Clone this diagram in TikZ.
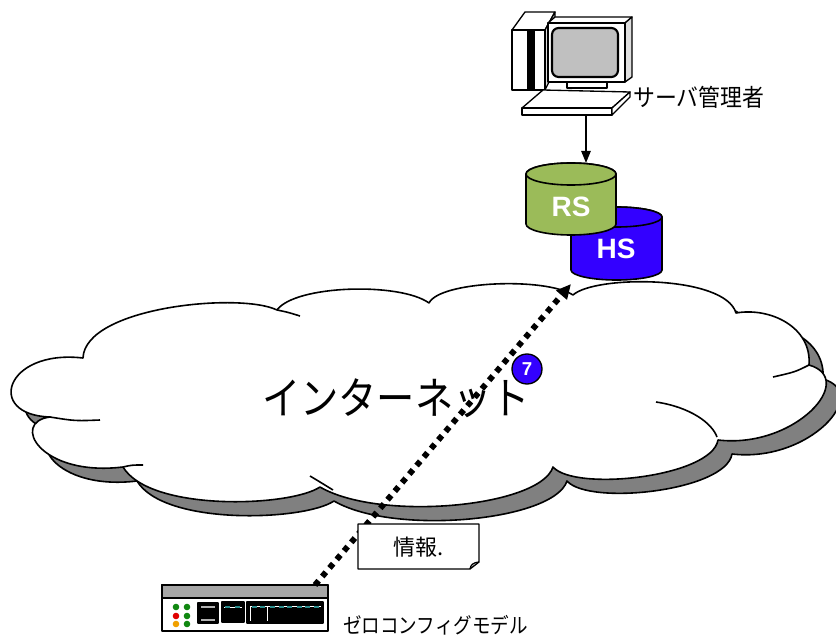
\documentclass[tikz,border=0pt]{standalone}
\usepackage{fontspec}
\setmainfont{Liberation Sans}
\newfontfamily\jpfont{Noto Sans CJK JP}
\usetikzlibrary{arrows.meta,positioning}
\definecolor{rsgreen}{HTML}{9BBB59}
\definecolor{hsblue}{HTML}{3300FF}
\definecolor{shadowgray}{HTML}{808080}
\definecolor{bandgray}{HTML}{A6A6A6}
\definecolor{screengray}{HTML}{C0C0C0}
\definecolor{portteal}{HTML}{2A8C8C}
\definecolor{ledgreen}{HTML}{118811}
\definecolor{ledred}{HTML}{E00000}
\definecolor{ledorange}{HTML}{F0A000}

\begin{document}
\begin{tikzpicture}[x=0.75pt,y=0.75pt,line join=round,
    outline/.style={draw=black,line width=1.2pt},
    pcline/.style={draw=black,line width=1pt},
    dbtext/.style={text=white,inner sep=0pt,font=\fontsize{21}{21}\selectfont\bfseries},
    jplabel/.style={inner sep=0pt,font=\jpfont\fontsize{#1}{#1}\selectfont},
    badge/.style={circle,draw=black,line width=1pt,fill=hsblue,text=white,inner sep=0pt,
        minimum size=22.5pt,font=\fontsize{14}{14}\selectfont\bfseries},
    link/.style={line width=4.4pt,dash pattern=on 4.2pt off 4.2pt,-{Triangle[length=11pt,width=10pt]}}]
    \useasboundingbox (0,0) rectangle (836,637);

    % cloud and its shadow
    \foreach \dx/\dy/\col in {14/-14/shadowgray,0/0/white}
        \draw[outline,fill=\col,shift={(\dx,\dy)}] (83,279)
            .. controls (85,330) and (240,345) .. (277,327)
            .. controls (295,352) and (400,355) .. (429,334)
            .. controls (440,356) and (545,360) .. (573,342)
            .. controls (595,362) and (725,362) .. (736,324)
            .. controls (770,330) and (812,310) .. (809,272)
            .. controls (858,258) and (795,188) .. (718,197)
            .. controls (712,160) and (575,145) .. (553,170)
            .. controls (540,130) and (380,115) .. (320,150)
            .. controls (290,130) and (150,125) .. (123,170)
            .. controls (40,160) and (10,215) .. (50,220)
            .. controls (-15,222) and (5,288) .. (83,279) -- cycle;
    \draw[outline] (277,327) .. controls (287,325) .. (300,321);
    \draw[outline] (50,220) .. controls (75,216) .. (100,217);
    \draw[outline] (123,170) .. controls (132,172) .. (143,172);
    \draw[outline] (310,161) .. controls (320,155) .. (333,147);
    \draw[outline] (809,272) .. controls (795,265) .. (773,260);
    \draw[outline] (656,235) .. controls (690,230) and (712,214) .. (717,200);
    \node[jplabel=33] (net) at (396,239) {\scalebox{0.87}[1]{インターネット}};

    % servers
    \draw[outline,fill=hsblue] (571,420) -- (571,367)
        arc[start angle=180,end angle=360,x radius=45.5,y radius=10] -- (662,420)
        arc[start angle=0,end angle=180,x radius=45.5,y radius=10] -- cycle;
    \draw[outline,fill=hsblue] (616.5,420) ellipse[x radius=45.5,y radius=10];
    \node[dbtext] (hs) at (616,388) {HS};
    \draw[outline,fill=rsgreen] (526,463) -- (526,413)
        arc[start angle=180,end angle=360,x radius=45,y radius=11] -- (616,463)
        arc[start angle=0,end angle=180,x radius=45,y radius=11] -- cycle;
    \draw[outline,fill=rsgreen] (571,463) ellipse[x radius=45,y radius=11];
    \node[dbtext] (rs) at (571,430) {RS};
    \coordinate (rstop) at (586,474);
    \coordinate (hsfoot) at (571,353);

    % device
    \draw[pcline,fill=white] (162,6) rectangle (328,52);
    \draw[pcline,fill=bandgray] (162,39) rectangle (328,52);
    \foreach \y/\c in {30/ledgreen,21/ledred,13/ledorange}
        \fill[\c] (176,\y) circle (3.3);
    \foreach \y in {30,21,13}
        \fill[ledgreen] (187,\y) circle (3.3);
    \draw[pcline,fill=black] (198,14) rectangle (218,34);
    \draw[gray!60,line width=0.8pt] (201,30) -- (215,30) (201,17) -- (215,17);
    \draw[pcline,fill=black] (222,15) rectangle (244,35);
    \draw[pcline,fill=black] (247,14) rectangle (323,35);
    \draw[white,line width=0.6pt] (224,30) -- (242,30) (250,31) -- (321,31)
        (250,31) -- (250,16) (267,31) -- (267,16);
    \foreach \x in {225,235,252,260,270,279,287,297,305,314}
        \fill[portteal] (\x,29) rectangle ++(5,2.5);
    \coordinate (cfgout) at (315,52);
    \node[jplabel=16,anchor=west] (model) at (343,12) {\scalebox{0.87}[1]{ゼロコンフィグモデル}};

    % data flow
    \draw[link] (cfgout) -- (hsfoot);
    \node[badge] (step7) at (527,268) {7};

    % note
    \draw[pcline,fill=white] (358,113) -- (479,113) -- (479,75) -- (470,68) -- (358,68) -- cycle;
    \draw[pcline] (470,68) .. controls (471,72) and (472,74) .. (479,75);
    \node[jplabel=16.5] (info) at (419,90) {情報.};

    % admin terminal
    \draw[pcline,fill=white] (512,607) -- (525,625) -- (555,625) -- (545,607) -- cycle;
    \draw[pcline,fill=gray!25] (545,607) -- (555,625) -- (555,567) -- (545,547) -- cycle;
    \draw[pcline,fill=white] (512,547) rectangle (545,607);
    \fill (527,547) rectangle (535,607);
    \draw[pcline,fill=white] (548,614) -- (555,620) -- (632,620) -- (625,614) -- cycle;
    \draw[pcline,fill=gray!25] (625,614) -- (632,620) -- (632,560) -- (625,555) -- cycle;
    \draw[pcline,fill=white] (548,555) rectangle (625,614);
    \draw[line width=1.6pt,fill=screengray,rounded corners=5] (552,560) rectangle (618,609);
    \draw[pcline,fill=white] (567,549) rectangle (607,555);
    \draw[pcline,fill=white] (522,529) -- (543,547) -- (630,545) -- (612,529) -- cycle;
    \draw[pcline,fill=white] (522,522) rectangle (612,529);
    \draw[pcline,fill=white] (612,529) -- (630,545) -- (630,540) -- (612,522) -- cycle;
    \coordinate (pc) at (586,522);
    \node[jplabel=18,anchor=west] (admin) at (633,540) {\scalebox{0.91}[1]{サーバ管理者}};
    \draw[line width=1.2pt,-{Triangle[length=9pt,width=7pt]}] (pc) -- (rstop);
\end{tikzpicture}
\end{document}
